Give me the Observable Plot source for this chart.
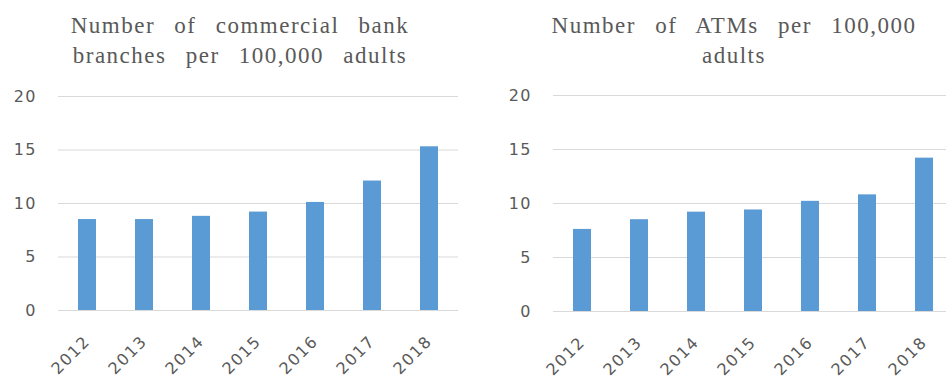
<!DOCTYPE html>
<html>
<head>
<meta charset="utf-8">
<script src="https://cdn.jsdelivr.net/npm/d3@7"></script>
<script src="https://cdn.jsdelivr.net/npm/@observablehq/plot@0.6"></script>
<style>
  body { margin: 0; background: #fff; }
  #wrap { position: relative; width: 946px; height: 378px; overflow: hidden; background: #fff; }
  .panel { position: absolute; top: 0; height: 378px; }
  .title { position: absolute; top: 11px; text-align: center; font-family: "Liberation Serif", "DejaVu Serif", serif;
           font-size: 23px; line-height: 30px; color: #595959; word-spacing: 12px; letter-spacing: 1.5px; white-space: nowrap; }
  .panel svg { position: absolute; left: 0; top: 0; }
</style>
</head>
<body>
<div id="wrap">
  <div class="panel" id="p1" style="left:0;width:473px;">
    <div class="title" style="left:0;width:480px;">Number of commercial bank<br>branches per 100,000 adults</div>
  </div>
  <div class="panel" id="p2" style="left:473px;width:480px;">
    <div class="title" style="left:0;width:522px;">Number of ATMs per 100,000<br>adults</div>
  </div>
</div>
<script>
const years = ["2012", "2013", "2014", "2015", "2016", "2017", "2018"];
const branches = [8.5, 8.5, 8.8, 9.2, 10.1, 12.1, 15.3];
const atms = [7.6, 8.5, 9.2, 9.4, 10.2, 10.8, 14.2];
const yTicks = [0, 5, 10, 15, 20];

function panel(values, opts) {
  const data = years.map((y, i) => ({year: y, value: values[i]}));
  return Plot.plot({
    width: opts.width,
    height: 378,
    marginLeft: opts.marginLeft,
    marginRight: opts.marginRight,
    marginTop: opts.marginTop,
    marginBottom: opts.marginBottom,
    style: {fontFamily: "'DejaVu Sans', 'Open Sans', sans-serif", fontSize: "16px", color: "#595959", background: "transparent", overflow: "visible", letterSpacing: "1.5px"},
    x: {domain: years, paddingInner: 0.69, paddingOuter: 0.35, align: 0.5, label: null},
    y: {domain: [0, 20], label: null},
    marks: [
      Plot.gridY(yTicks, {stroke: "#d9d9d9", strokeOpacity: 1, strokeWidth: 1}),
      Plot.barY(data, {x: "year", y: "value", fill: "#5b9bd5"}),
      Plot.axisX({label: null, tickSize: 0, tickPadding: 28, tickRotate: -45, fill: "#595959", fontSize: 16}),
      Plot.axisY(yTicks, {label: null, tickSize: 0, tickPadding: 21.5, fill: "#595959", fontSize: 16})
    ]
  });
}

document.getElementById("p1").appendChild(panel(branches, {width: 473, marginLeft: 58, marginRight: 15, marginTop: 96, marginBottom: 68}));
document.getElementById("p2").appendChild(panel(atms, {width: 480, marginLeft: 80, marginRight: 0, marginTop: 95, marginBottom: 67}));
</script>
</body>
</html>
